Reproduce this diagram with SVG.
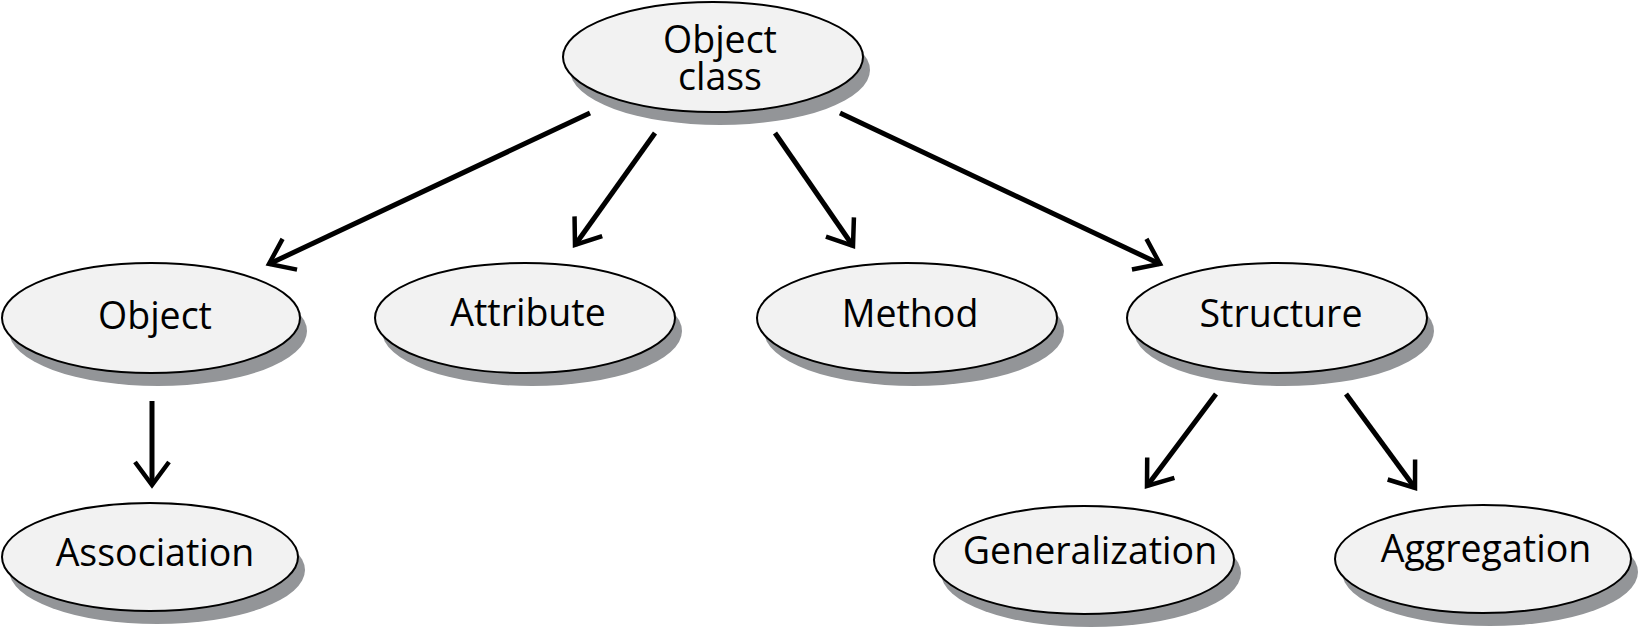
<svg xmlns="http://www.w3.org/2000/svg" width="1640" height="629" viewBox="0 0 1640 629">
<style>
.sh{fill:#939598;stroke:none}
.nd{fill:#f2f2f2;stroke:#000;stroke-width:2}
.lb{font-family:"Open Sans","Liberation Sans",sans-serif;font-size:37.5px;fill:#000;text-anchor:middle}
.cn{stroke:#000;stroke-width:5;fill:none;stroke-linecap:butt}
</style>
<defs>
<marker id="ah" markerUnits="userSpaceOnUse" orient="auto" refX="0" refY="0" markerWidth="40" markerHeight="40" viewBox="-30 -20 40 40" overflow="visible">
<path d="M -23 -17 L 0 0 L -23 17" fill="none" stroke="#000" stroke-width="4.5" stroke-linejoin="miter"/>
</marker>
</defs>
<rect width="1640" height="629" fill="#fff"/>
<g id="connectors">
<line class="cn" x1="590" y1="113" x2="269" y2="264" marker-end="url(#ah)"/>
<line class="cn" x1="655" y1="133" x2="575" y2="245" marker-end="url(#ah)"/>
<line class="cn" x1="775" y1="133" x2="853" y2="246" marker-end="url(#ah)"/>
<line class="cn" x1="840" y1="113" x2="1160" y2="264" marker-end="url(#ah)"/>
<line class="cn" x1="152" y1="401" x2="152" y2="485" marker-end="url(#ah)"/>
<line class="cn" x1="1216" y1="394" x2="1147" y2="486" marker-end="url(#ah)"/>
<line class="cn" x1="1346" y1="394" x2="1415" y2="488" marker-end="url(#ah)"/>
</g>
<g id="node-object-class">
<ellipse class="sh" cx="720" cy="70" rx="150" ry="55"/>
<ellipse class="nd" cx="713" cy="57" rx="150" ry="55"/>
<text class="lb"><tspan x="720" y="53">Object</tspan><tspan x="720" y="90">class</tspan></text>
</g>
<g id="node-object">
<ellipse class="sh" cx="158" cy="331" rx="149" ry="55"/>
<ellipse class="nd" cx="151" cy="318" rx="149" ry="55"/>
<text class="lb" x="155" y="329">Object</text>
</g>
<g id="node-attribute">
<ellipse class="sh" cx="532" cy="331" rx="150" ry="55"/>
<ellipse class="nd" cx="525" cy="318" rx="150" ry="55"/>
<text class="lb" x="528" y="326">Attribute</text>
</g>
<g id="node-method">
<ellipse class="sh" cx="914" cy="331" rx="150" ry="55"/>
<ellipse class="nd" cx="907" cy="318" rx="150" ry="55"/>
<text class="lb" x="910" y="327">Method</text>
</g>
<g id="node-structure">
<ellipse class="sh" cx="1284" cy="331" rx="150" ry="55"/>
<ellipse class="nd" cx="1277" cy="318" rx="150" ry="55"/>
<text class="lb" x="1281" y="327">Structure</text>
</g>
<g id="node-association">
<ellipse class="sh" cx="157" cy="570" rx="148" ry="54"/>
<ellipse class="nd" cx="150" cy="557" rx="148" ry="54"/>
<text class="lb" x="155" y="566">Association</text>
</g>
<g id="node-generalization">
<ellipse class="sh" cx="1091" cy="573" rx="150" ry="54"/>
<ellipse class="nd" cx="1084" cy="560" rx="150" ry="54"/>
<text class="lb" x="1090" y="564">Generalization</text>
</g>
<g id="node-aggregation">
<ellipse class="sh" cx="1490" cy="572" rx="148" ry="54"/>
<ellipse class="nd" cx="1483" cy="559" rx="148" ry="54"/>
<text class="lb" x="1486" y="562">Aggregation</text>
</g>
</svg>
